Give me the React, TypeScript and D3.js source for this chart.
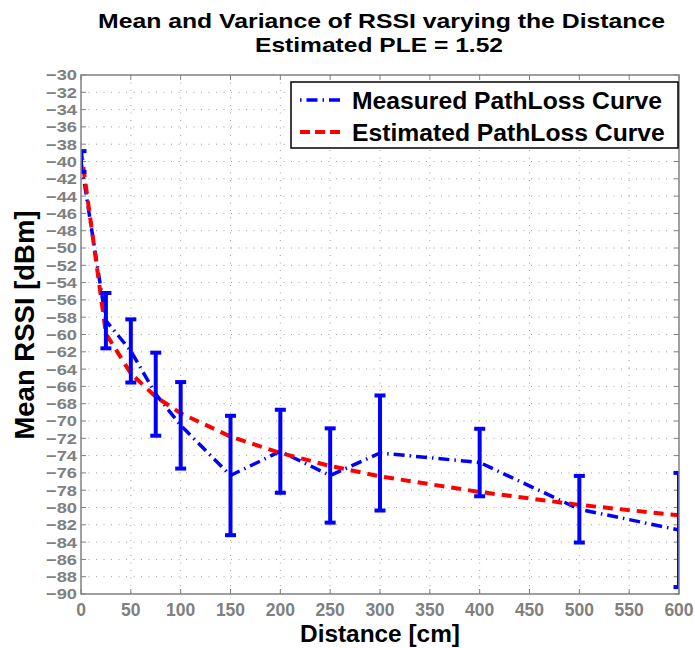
import React from "react";
import * as d3 from "d3";

const distances = [0, 25, 50, 75, 100, 150, 200, 250, 300, 400, 500, 600];
const measuredMean = [-40.0, -58.4, -61.9, -66.9, -70.5, -76.3, -73.5, -76.3, -73.7, -74.8, -80.2, -82.6];
const measuredStd = [1.2, 3.2, 3.65, 4.8, 5.0, 6.9, 4.8, 5.45, 6.65, 3.9, 3.85, 6.6];
const estimatedMean = [-38.7, -59.9, -64.5, -67.2, -69.1, -71.8, -73.7, -75.2, -76.4, -78.2, -79.7, -80.9];
const xTicks = [0, 50, 100, 150, 200, 250, 300, 350, 400, 450, 500, 550, 600];
const yTicks = d3.range(-90, -29, 2);
const legendLabels = ["Measured PathLoss Curve", "Estimated PathLoss Curve"];

const W = 695;
const H = 648;
const L = 81, R = 679, T = 75, B = 594;
const FONT = "'Liberation Sans', Arial, Helvetica, sans-serif";
const AX = "#808080";

export default function App() {
  const x = d3.scaleLinear().domain([0, 600]).range([L, R]);
  const y = d3.scaleLinear().domain([-90, -30]).range([B, T]);
  const measured = distances.map((d, i) => ({ d, v: measuredMean[i], s: measuredStd[i] }));
  const estimated = distances.map((d, i) => ({ d, v: estimatedMean[i] }));
  const line = d3.line<{ d: number; v: number }>().x((p) => x(p.d)).y((p) => y(p.v));
  const capW = 5.5;

  return (
    <svg width={W} height={H} style={{ position: "absolute", left: 0, top: 0, background: "#fff" }} fontFamily={FONT}>
      <defs>
        <clipPath id="plotclip">
          <rect x={L} y={T} width={R - L} height={B - T} />
        </clipPath>
      </defs>
      <rect x={0} y={0} width={W} height={H} fill="#fff" />
      {/* grid */}
      {xTicks.filter((t) => t > 0 && t < 600).map((t) => (
        <line key={"gx" + t} x1={x(t)} x2={x(t)} y1={T} y2={B} stroke="#a0a0a0" strokeWidth={1} strokeDasharray="1,6.5" />
      ))}
      {yTicks.filter((t) => t > -90 && t < -30).map((t) => (
        <line key={"gy" + t} x1={L} x2={R} y1={y(t)} y2={y(t)} stroke="#a0a0a0" strokeWidth={1} strokeDasharray="1,6.5" />
      ))}
      {/* ticks */}
      {xTicks.map((t) => (
        <g key={"tx" + t}>
          <line x1={x(t)} x2={x(t)} y1={B} y2={B - 5} stroke={AX} strokeWidth={1} />
          <line x1={x(t)} x2={x(t)} y1={T} y2={T + 5} stroke={AX} strokeWidth={1} />
          <text x={x(t)} y={616} textAnchor="middle" fontSize={17.5} fontWeight="bold" fill={AX}>{t}</text>
        </g>
      ))}
      {yTicks.map((t) => (
        <g key={"ty" + t}>
          <line x1={L} x2={L + 5} y1={y(t)} y2={y(t)} stroke={AX} strokeWidth={1} />
          <line x1={R} x2={R - 5} y1={y(t)} y2={y(t)} stroke={AX} strokeWidth={1} />
          <text x={77} y={y(t)} dy="0.36em" textAnchor="end" fontSize={15} fontWeight="bold" fill={AX} textLength={31} lengthAdjust="spacingAndGlyphs">{"\u2212" + Math.abs(t)}</text>
        </g>
      ))}
      {/* data */}
      <g clipPath="url(#plotclip)">
        <path d={line(measured) || ""} fill="none" stroke="#0000ff" strokeWidth={3.5} strokeDasharray="11,5,1.5,5" />
        <path d={line(estimated) || ""} fill="none" stroke="#ff0000" strokeWidth={4} strokeDasharray="10,7" />
        {measured.map((p) => (
          <g key={"eb" + p.d} stroke="#0000ff" strokeWidth={4}>
            <line x1={x(p.d)} x2={x(p.d)} y1={y(p.v + p.s)} y2={y(p.v - p.s)} />
            <line x1={x(p.d) - capW} x2={x(p.d) + capW} y1={y(p.v + p.s)} y2={y(p.v + p.s)} />
            <line x1={x(p.d) - capW} x2={x(p.d) + capW} y1={y(p.v - p.s)} y2={y(p.v - p.s)} />
          </g>
        ))}
      </g>
      {/* frame */}
      <rect x={L} y={T} width={R - L} height={B - T} fill="none" stroke={AX} strokeWidth={1.5} />
      {/* legend */}
      <rect x={291} y={82} width={387} height={66} fill="#fff" stroke="#000" strokeWidth={1.5} />
      <line x1={300} x2={345} y1={100} y2={100} stroke="#0000ff" strokeWidth={3.5} strokeDasharray="1.5,5,11,5" />
      <line x1={300} x2={345} y1={132} y2={132} stroke="#ff0000" strokeWidth={4} strokeDasharray="10,5" />
      <text x={352} y={100} dy="0.36em" fontSize={24.7} fontWeight="bold" fill="#000">{legendLabels[0]}</text>
      <text x={352} y={132} dy="0.36em" fontSize={24.7} fontWeight="bold" fill="#000">{legendLabels[1]}</text>
      {/* titles */}
      <text x={381.5} y={27.5} textAnchor="middle" fontSize={20.5} fontWeight="bold" fill="#000" textLength={567} lengthAdjust="spacingAndGlyphs">Mean and Variance of RSSI varying the Distance</text>
      <text x={379} y={51.5} textAnchor="middle" fontSize={20.5} fontWeight="bold" fill="#000" textLength={248} lengthAdjust="spacingAndGlyphs">Estimated PLE = 1.52</text>
      <text x={380} y={642} textAnchor="middle" fontSize={24.4} fontWeight="bold" fill="#000">Distance [cm]</text>
      <text transform={`translate(34,325) rotate(-90)`} textAnchor="middle" fontSize={27.5} fontWeight="bold" fill="#000">Mean RSSI [dBm]</text>
    </svg>
  );
}
